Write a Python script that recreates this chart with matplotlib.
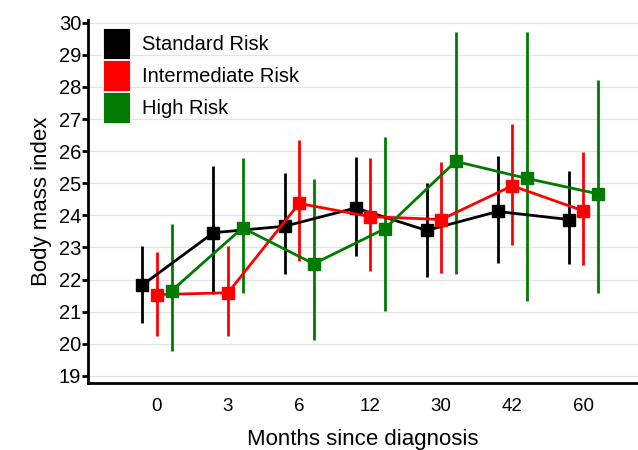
import matplotlib
matplotlib.use("Agg")
import matplotlib.pyplot as plt
from matplotlib.patches import Patch
import numpy as np

plt.rcParams['font.family'] = ['Liberation Sans', 'DejaVu Sans']

months = ["0", "3", "6", "12", "30", "42", "60"]
groups = ["Standard Risk", "Intermediate Risk", "High Risk"]
colors = ["#000000", "#ff0000", "#007a00"]

std_mean = [21.83, 23.46, 23.66, 24.23, 23.53, 24.12, 23.87]
std_hi = [23.03, 25.53, 25.33, 25.82, 25.00, 25.85, 25.38]
std_lo = [20.66, 21.56, 22.16, 22.73, 22.09, 22.52, 22.49]

int_mean = [21.53, 21.59, 24.37, 23.96, 23.87, 24.92, 24.14]
int_hi = [22.85, 23.06, 26.34, 25.79, 25.65, 26.84, 25.98]
int_lo = [20.25, 20.23, 22.57, 22.26, 22.21, 23.09, 22.44]

high_mean = [21.65, 23.61, 22.49, 23.58, 25.68, 25.15, 24.67]
high_hi = [23.72, 25.79, 25.12, 26.45, 29.71, 29.71, 28.23]
high_lo = [19.76, 21.59, 20.12, 21.01, 22.18, 21.33, 21.59]

series = [(std_mean, std_lo, std_hi), (int_mean, int_lo, int_hi), (high_mean, high_lo, high_hi)]
offsets = [-0.205, 0.0, 0.205]

fig = plt.figure(figsize=(6.38, 4.5), dpi=100)
ax = fig.add_axes([0.138, 0.149, 0.862, 0.807])

x = np.arange(len(months))
for (m, lo, hi), c, off, g in zip(series, colors, offsets, groups):
    m = np.array(m); lo = np.array(lo); hi = np.array(hi)
    xs = x + off
    ax.vlines(xs, lo, hi, color=c, lw=2.0, zorder=2)
    ax.plot(xs, m, color=c, lw=2.0, marker='s', ms=8.8, zorder=3)

ax.set_xlim(-0.97, 6.77)
ax.set_ylim(18.78, 30.09)
ax.set_yticks(range(19, 31))
ax.set_xticks(x)
ax.set_xticklabels(months)
ax.yaxis.grid(True, color='#e3e3e3', lw=0.9)
ax.set_axisbelow(True)
for s in ['top', 'right']:
    ax.spines[s].set_visible(False)
for s in ['left', 'bottom']:
    ax.spines[s].set_linewidth(2.0)
ax.tick_params(axis='y', length=4, width=2.0, labelsize=14.5, pad=1)
ax.tick_params(axis='x', length=0, labelsize=13.5, pad=11)
ax.set_ylabel("Body mass index", fontsize=16, labelpad=5)
ax.set_xlabel("Months since diagnosis", fontsize=16, labelpad=10)

handles = [Patch(facecolor=c, edgecolor='white', lw=0.6) for c in colors]
ax.legend(handles, groups, loc='upper left', bbox_to_anchor=(0.015, 0.997), frameon=False,
          fontsize=14.5, handlelength=1.3, handleheight=2.0, labelspacing=0.05,
          handletextpad=0.6, borderaxespad=0.0, borderpad=0.35)

fig.savefig("out.png", dpi=100)
